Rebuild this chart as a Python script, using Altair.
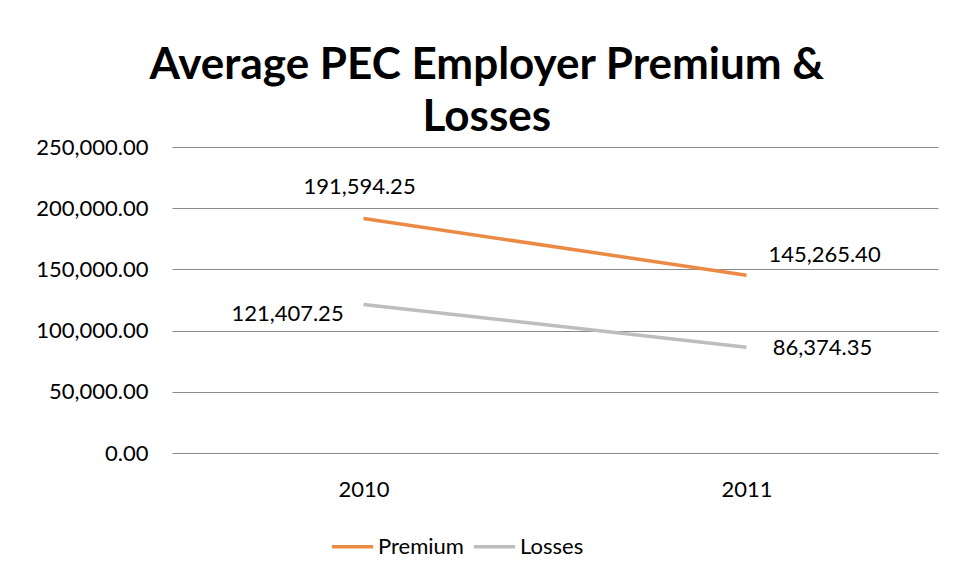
import altair as alt
import pandas as pd

years = ["2010", "2011"]
premium = [191594.25, 145265.40]
losses = [121407.25, 86374.35]
series_names = ["Premium", "Losses"]

rows = []
for s, vals in zip(series_names, [premium, losses]):
    for y, v in zip(years, vals):
        rows.append({"Year": y, "Series": s, "Value": v})
df = pd.DataFrame(rows)

FONT = "Lato"
colors = ["#EB8A45", "#BDBDBD"]

x = alt.X("Year:N", scale=alt.Scale(type="point", padding=0.5),
          axis=alt.Axis(title=None, labelAngle=0, ticks=False, domain=False, grid=False,
                        labelFontSize=22, labelPadding=26, labelColor="#000", labelFont=FONT))
y = alt.Y("Value:Q", scale=alt.Scale(domain=[0, 250000], nice=False),
          axis=alt.Axis(title=None, values=[0, 50000, 100000, 150000, 200000, 250000],
                        format=",.2f", ticks=False, domain=False, grid=True,
                        gridColor="#8a8a8a", gridWidth=1, labelFontSize=22,
                        labelPadding=24, labelColor="#000", labelFont=FONT))

base = alt.Chart(df)

lines = base.mark_line(strokeWidth=3.5, strokeCap="butt").encode(
    x=x, y=y,
    color=alt.Color("Series:N", sort=series_names,
                    scale=alt.Scale(domain=series_names, range=colors),
                    legend=alt.Legend(orient="none", legendX=158, legendY=377, direction="horizontal",
                                      title=None, symbolType="stroke", symbolSize=1700,
                                      symbolStrokeWidth=3.5, labelFontSize=22, labelFont=FONT,
                                      labelColor="#000", labelOffset=3, columnPadding=2,
                                      padding=0))
)

def lbl(series, year, dx, dy):
    return base.transform_filter(
        (alt.datum.Series == series) & (alt.datum.Year == year)
    ).mark_text(dx=dx, dy=dy, fontSize=22, font=FONT, color="#000", align="center",
                baseline="middle").encode(
        x=x, y=y, text=alt.Text("Value:Q", format=",.2f"))

labels = [
    lbl("Premium", "2010", -4, -31),
    lbl("Premium", "2011", 78, -20),
    lbl("Losses", "2010", -76, 10),
    lbl("Losses", "2011", 76, 1),
]

chart = alt.layer(lines, *labels).properties(
    width=766, height=306,
    autosize=alt.AutoSizeParams(type="none"),
    padding={"left": 164, "top": 139, "right": 15, "bottom": 120},
    title=alt.TitleParams(text=["Average PEC Employer Premium &", "Losses"],
                          fontSize=44, font=FONT, fontWeight="bold", color="#000",
                          anchor="middle", frame="bounds", lineHeight=52, offset=-4),
).configure(background="white").configure_view(stroke=None)

chart.save("out.html", embed_options={"renderer": "svg", "actions": False})
